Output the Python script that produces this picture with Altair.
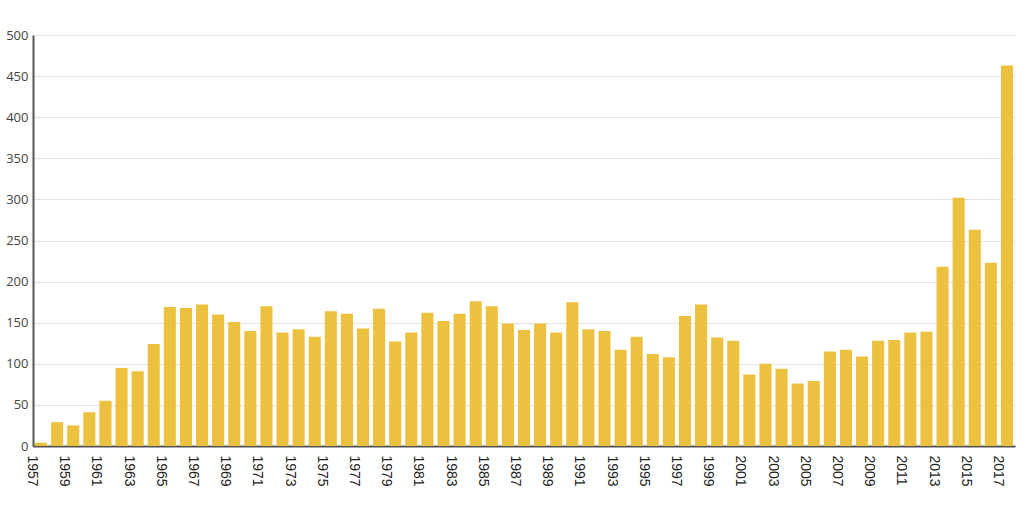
import altair as alt
import pandas as pd

years = list(range(1957, 2018))
values = [4, 29, 25, 41, 55, 95, 91, 124, 169, 168,
          172, 160, 151, 140, 170, 138, 142, 133, 164, 161,
          143, 167, 127, 138, 162, 152, 161, 176, 170, 149,
          141, 149, 138, 175, 142, 140, 117, 133, 112, 108,
          158, 172, 132, 128, 87, 100, 94, 76, 79, 115,
          117, 109, 128, 129, 138, 139, 218, 302, 263, 223,
          463]
label_years = [str(y) for y in range(1957, 2018, 2)]

df = pd.DataFrame({"year": [str(y) for y in years], "value": values})

chart = alt.Chart(df).mark_bar(color="#EBC13F").encode(
    x=alt.X("year:N", sort=None, title=None,
            scale=alt.Scale(paddingInner=0.25, paddingOuter=0.125),
            axis=alt.Axis(values=label_years, labelAngle=90, labelOffset=-9,
                          labelFont="Liberation Sans", labelFontSize=14,
                          labelColor="#222", labelPadding=9, ticks=False,
                          domainColor="#555", domainWidth=2, grid=False)),
    y=alt.Y("value:Q", title=None,
            scale=alt.Scale(domain=[0, 500], nice=False),
            axis=alt.Axis(values=list(range(0, 501, 50)), ticks=False,
                          labelFont="Open Sans", labelFontSize=13,
                          labelColor="#444", labelPadding=5,
                          domainColor="#555", domainWidth=2,
                          gridColor="#e4e4e4", gridWidth=1)),
).properties(
    width=982, height=411,
    autosize=alt.AutoSizeParams(type="none"),
    padding={"left": 33, "top": 35, "right": 9, "bottom": 59},
).configure_view(stroke=None)

chart.save("out.html", embed_options={"renderer": "svg", "actions": False})
